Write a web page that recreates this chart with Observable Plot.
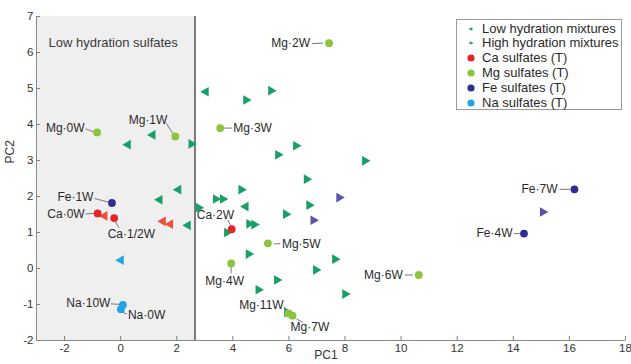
<!DOCTYPE html>
<html><head><meta charset="utf-8">
<script src="https://cdn.jsdelivr.net/npm/d3@7"></script>
<script src="https://cdn.jsdelivr.net/npm/@observablehq/plot@0.6"></script>
<style>
body{margin:0;background:#fff;font-family:"Liberation Sans",Arial,sans-serif;}
#wrap{position:relative;width:631px;height:364px;}
#legend{position:absolute;left:456px;top:19px;width:166px;height:91px;border:1px solid #9a9a9a;background:#fff;box-sizing:border-box;font-size:13px;color:#2a2a2a;}
#legend .row{position:absolute;left:0;height:14px;line-height:14px;white-space:nowrap;}
#legend svg{position:absolute;left:7px;top:0;}
#legend span{position:absolute;left:25px;top:0;}
</style></head>
<body><div id="wrap"></div>
<script>
// ---- data ----
const xTicks = [-2, 0, 2, 4, 6, 8, 10, 12, 14, 16, 18];
const yTicks = [-2, -1, 0, 1, 2, 3, 4, 5, 6, 7];
const lowHydrationBoundary = 2.65;

const lowMixX = [0.26, 1.14, 3.04, 2.06, 1.39, 2.40, 4.46];
const lowMixY = [3.44, 3.71, 4.91, 2.19, 1.91, 1.20, 1.72];
const highMixX = [2.52, 4.47, 5.36, 6.25, 5.61, 8.71, 6.63, 4.30, 3.39, 3.64, 6.72, 5.89, 2.78, 4.58, 4.76, 3.79, 4.56, 7.64, 6.96, 5.57, 4.91, 8.00, 5.93];
const highMixY = [3.46, 4.68, 4.94, 3.41, 3.16, 2.99, 2.48, 2.19, 1.93, 1.93, 1.76, 1.51, 1.69, 1.24, 1.22, 1.00, 0.40, 0.26, -0.04, -0.32, -0.59, -0.71, -1.22];
const caMixX = [-0.57, 1.51, 1.77];
const caMixY = [1.46, 1.31, 1.23];
const feMixX = [15.05, 7.79, 6.87];
const feMixY = [1.57, 1.97, 1.34];
const naMixX = [0.01];
const naMixY = [0.23];

const sulfateNames = ["Mg·0W","Mg·1W","Mg·2W","Mg·3W","Mg·4W","Mg·5W","Mg·6W","Mg·7W","Mg·11W","Ca·0W","Ca·1/2W","Ca·2W","Fe·1W","Fe·4W","Fe·7W","Na·0W","Na·10W"];
const sulfateX = [-0.84, 1.95, 7.43, 3.55, 3.94, 5.25, 10.63, 6.13, 5.99, -0.82, -0.23, 3.96, -0.31, 14.38, 16.18, 0.01, 0.08];
const sulfateY = [3.78, 3.67, 6.26, 3.90, 0.14, 0.70, -0.18, -1.31, -1.25, 1.53, 1.40, 1.09, 1.82, 0.97, 2.20, -1.13, -1.01];
const sulfateCation = ["Mg","Mg","Mg","Mg","Mg","Mg","Mg","Mg","Mg","Ca","Ca","Ca","Fe","Fe","Fe","Na","Na"];

const legendLabels = ["Low hydration mixtures","High hydration mixtures","Ca sulfates (T)","Mg sulfates (T)","Fe sulfates (T)","Na sulfates (T)"];

// ---- styles / layout ----
const colors = {mix:"#16a064", Ca:"#e4262b", Mg:"#8cc43e", Fe:"#2d2f8e", Na:"#22a4e4", CaMix:"#ec5238", FeMix:"#5a53a6", NaMix:"#22a4e4"};
const W = 631, H = 364, m = {top:16, right:6, bottom:24, left:36};
const xDomain = [-3, 18], yDomain = [-2, 7];
const kx = (W - m.left - m.right) / (xDomain[1] - xDomain[0]);
const ky = (H - m.top - m.bottom) / (yDomain[1] - yDomain[0]);

// label placement: text anchor, offset (px) and leader line [x1,y1,x2,y2] (px) relative to point
const labelLayout = {
  "Mg·0W":  {a:"end",   dx:-12.5, dy:-4,  l:[-11.5,-3.5,-3,-0.5]},
  "Mg·1W":  {a:"end",   dx:-8,    dy:-16, l:[-9,-13,-2.5,-3]},
  "Mg·2W":  {a:"end",   dx:-19,   dy:0.5, l:[-17,0.5,-6,0]},
  "Mg·3W":  {a:"start", dx:13,    dy:0,   l:[4,0,12,0]},
  "Mg·4W":  {a:"middle",dx:-6.5,  dy:18,  l:[0,3.5,0,10]},
  "Mg·5W":  {a:"start", dx:14,    dy:0.5, l:[6,0.5,12.5,0.5]},
  "Mg·6W":  {a:"end",   dx:-16,   dy:0,   l:[-14,0,-6,0]},
  "Mg·7W":  {a:"start", dx:-2,    dy:11,  l:[4,3.3,10.3,6.7]},
  "Mg·11W": {a:"end",   dx:-5,    dy:-8.5,l:[-5,-6.5,-1,-3.5]},
  "Ca·0W":  {a:"end",   dx:-13,   dy:0.5, l:[-12,0.5,-3.5,0]},
  "Ca·1/2W":{a:"start", dx:-6.5,  dy:16,  l:[1,3.5,5,10]},
  "Ca·2W":  {a:"start", dx:-35,   dy:-14, l:[-4,-9.5,-1,-3.5]},
  "Fe·1W":  {a:"end",   dx:-18.5, dy:-6,  l:[-17.5,-4.5,-4,-1]},
  "Fe·4W":  {a:"end",   dx:-11.5, dy:0,   l:[-10,0,-4,0]},
  "Fe·7W":  {a:"end",   dx:-17,   dy:0,   l:[-15,0,-4.5,0]},
  "Na·0W":  {a:"start", dx:7,     dy:6,   l:[2,3,6,5]},
  "Na·10W": {a:"end",   dx:-12.5, dy:-2,  l:[-12,-1,-3.5,-0.5]}
};

const zip = (xs, ys) => xs.map((x, i) => ({x, y: ys[i]}));
const lowMix = zip(lowMixX, lowMixY);
const highMix = zip(highMixX, highMixY);
const sulfates = sulfateNames.map((name, i) => ({name, x: sulfateX[i], y: sulfateY[i], cation: sulfateCation[i]}));
const leaders = sulfates.map(d => {
  const L = labelLayout[d.name].l;
  return {x1: d.x + L[0]/kx, y1: d.y - L[1]/ky, x2: d.x + L[2]/kx, y2: d.y - L[3]/ky};
});

const triR = 3.6, dotR = 3.9;
const font = "'Liberation Sans', Arial, sans-serif";

const marks = [
  Plot.rect([{x1: xDomain[0], x2: lowHydrationBoundary, y1: yDomain[0], y2: yDomain[1]}], {x1:"x1", x2:"x2", y1:"y1", y2:"y2", fill:"#efefef"}),
  Plot.text(["Low hydration sulfates"], {frameAnchor:"top-left", dx:12, dy:21, textAnchor:"start", fontSize:13, fill:"#3a3a3a"}),
  Plot.ruleX([lowHydrationBoundary], {stroke:"#7a7a7a", strokeWidth:2}),
  Plot.ruleX([xDomain[0]], {stroke:"#8a8a8a"}),
  Plot.ruleY([yDomain[0]], {stroke:"#8a8a8a"}),
  Plot.axisX({ticks: xTicks, tickFormat: d => String(d), tickSize: -4, tickPadding: 7, label: null, stroke:"#808080", fill:"#333", fontSize: 11.5}),
  Plot.axisY({ticks: yTicks, tickFormat: d => String(d), tickSize: -4, tickPadding: 7, label: null, stroke:"#808080", fill:"#333", fontSize: 11.5}),
  Plot.text(["PC1"], {frameAnchor:"bottom", dx:-5, dy:18, fontSize:12, fill:"#333"}),
  Plot.text(["PC2"], {frameAnchor:"left", dx:-26, dy:-15, rotate:-90, fontSize:12, fill:"#333"}),
  Plot.dot(lowMix, {x:"x", y:"y", symbol:"triangle", rotate:-90, r:triR, fill:colors.mix}),
  Plot.dot(highMix, {x:"x", y:"y", symbol:"triangle", rotate:90, r:triR, fill:colors.mix}),
  Plot.dot(zip(caMixX, caMixY), {x:"x", y:"y", symbol:"triangle", rotate:-90, r:triR, fill:colors.CaMix}),
  Plot.dot(zip(feMixX, feMixY), {x:"x", y:"y", symbol:"triangle", rotate:90, r:triR, fill:colors.FeMix}),
  Plot.dot(zip(naMixX, naMixY), {x:"x", y:"y", symbol:"triangle", rotate:-90, r:triR, fill:colors.NaMix}),
  Plot.link(leaders, {x1:"x1", y1:"y1", x2:"x2", y2:"y2", stroke:"#6a6a6a", strokeWidth:0.9}),
  Plot.dot(sulfates, {x:"x", y:"y", r:dotR, fill: d => colors[d.cation]}),
  ...sulfates.map(d => Plot.text([d], {x:"x", y:"y", text:"name", textAnchor: labelLayout[d.name].a, dx: labelLayout[d.name].dx, dy: labelLayout[d.name].dy, fontSize:12, fill:"#2a2a2a"}))
];

const chart = Plot.plot({
  width: W, height: H,
  marginTop: m.top, marginRight: m.right, marginBottom: m.bottom, marginLeft: m.left,
  x: {domain: xDomain},
  y: {domain: yDomain},
  style: {fontFamily: font, background: "#fff", overflow: "visible"},
  marks
});

const wrap = document.getElementById("wrap");
wrap.appendChild(chart);

// legend
const legend = document.createElement("div");
legend.id = "legend";
const legendSym = [
  {type:"tri", rot:-90, color:colors.mix},
  {type:"tri", rot:90, color:colors.mix},
  {type:"dot", color:colors.Ca},
  {type:"dot", color:colors.Mg},
  {type:"dot", color:colors.Fe},
  {type:"dot", color:colors.Na}
];
legendLabels.forEach((lab, i) => {
  const row = document.createElement("div");
  row.className = "row";
  row.style.top = (1.5 + i * 14.8) + "px";
  const s = legendSym[i];
  const shape = s.type === "tri"
    ? `<path d="M${s.rot>0?4:-4},0L${s.rot>0?-2:2},-2.6L${s.rot>0?-2:2},2.6Z" transform="translate(7,7) scale(0.7)" fill="${s.color}"/>`
    : `<circle cx="7" cy="7" r="3.6" fill="${s.color}"/>`;
  row.innerHTML = `<svg width="14" height="14">${shape}</svg><span>${lab}</span>`;
  legend.appendChild(row);
});
wrap.appendChild(legend);
</script>
</body></html>
